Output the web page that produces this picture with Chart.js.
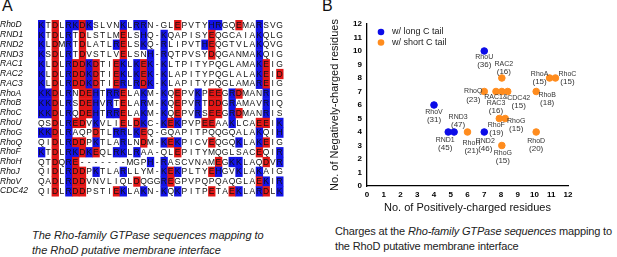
<!DOCTYPE html>
<html>
<head>
<meta charset="utf-8">
<script src="https://cdn.jsdelivr.net/npm/chart.js@4.4.0/dist/chart.umd.min.js"></script>
<style>
  body { margin: 0; width: 617px; height: 257px; overflow: hidden; background: #fff;
         font-family: "Liberation Sans", Arial, sans-serif; position: relative; }
  .panel { position: absolute; font-size: 16px; color: #111; }
  .cap { position: absolute; font-size: 11px; line-height: 15px; color: #222; white-space: nowrap; }
  #alignWrap { position: absolute; left: 0; top: 0; width: 310px; height: 210px; }
  #scatterWrap { position: absolute; left: 320px; top: 0; width: 297px; height: 216px; }
</style>
</head>
<body>
<div class="panel" style="left:2px;top:-3px;">A</div>
<div class="panel" style="left:322px;top:-3px;">B</div>
<div id="alignWrap"><canvas id="align-chart"></canvas></div>
<div id="scatterWrap"><canvas id="charge-chart"></canvas></div>
<div class="cap" style="left:32px;top:228px;font-style:italic;">The Rho-family GTPase sequences mapping to<br>the RhoD putative membrane interface</div>
<div class="cap" style="left:335px;top:224px;letter-spacing:-0.15px;">Charges at the <i>Rho-family GTPase sequences</i> mapping to<br>the RhoD putative membrane interface</div>
<script>
// panel A: alignment
const alignNames = ['RhoD','RND1','RND2','RND3','RAC1','RAC2','RAC3','RhoA','RhoB','RhoC',
                    'RhoU','RhoG','RhoQ','RhoF','RhoH','RhoJ','RhoV','CDC42'];
const alignSeqs = [
    'KTDLRKDKSLVNKLRRN-GLEPVTYHRGQEMARSVG',
    'KTDLRTDLSTLMELSHQ-KQAPISYEQGCAIAKQLG',
    'KLDMRTDLATLRELSKQ-RLIPVTHEQGTVLAKQVG',
    'KSDLRTDVSTLVELSNH-RQTPVSYDQGANMAKQIG',
    'KLDLRDDKDTIEKLKEK-KLTPITYPQGLAMAKEIG',
    'KLDLRDDKDTIEKLKEK-KLAPITYPQGLALAKEID',
    'KLDLRDDKDTIERLRDK-KLAPITYPQGLAMAREIG',
    'KKDLRNDEHTRRELAKM-KQEPVKPEEGRDMANRIG',
    'KKDLRSDEHVRTELARM-KQEPVRTDDGRAMAVRIQ',
    'KKDLRQDEHTRRELAKM-KQEPVRSEEGRDMANRIS',
    'QSDLREDVKVLIELDKC-KEKPVPEEAAKLCAEEIK',
    'KKDLRAQPDTLRRLKEQ-GQAPITPQQGQALAKQIH',
    'QIDLRDDPKTLARLNDM-KEKPICVEQGQKLAKEIG',
    'KTDLRKDKEQLRKLRAA-QLEPITYMQGLSACEQIR',
    'QTDQRE-------MGPH-RASCVNAMEGKKLAQDVR',
    'QIDLRDDPKTLARLLYM-KEKPLTYEHGVKLAKAIG',
    'QADLRDDVNVLIQLDQGGREGPVPQPQAQGLAEKIR',
    'QIDLRDDPSTIEKLAKN-KQKPITPETAEKLARDLK'
];
const positiveRes = 'KRH';
const negativeRes = 'DE';

// panel B: charges
const longNames = ['RhoU', 'RhoV', 'RND1', 'RND3', 'RND2'];
const longPositive = [7, 4, 4.85, 5.2, 7];
const longNegative = [10, 6, 4, 4, 4];
const longTailLen = [36, 31, 45, 47, 46];

const shortNames = ['RAC2', 'RhoA', 'RhoC', 'RhoQ', 'RAC1&\nRAC3', '', 'CDC42', 'RhoB',
                    'RhoF', 'RhoG', 'RhoH', 'RhoD', 'RhoG'];
const shortPositive = [8.05, 10.9, 11.25, 7, 7.7, 8.05, 8.4, 10.1, 7.9, 8.25, 6, 10.1, 8.05];
const shortNegative = [8, 8, 8, 7, 7, 7, 7, 7, 5, 5, 4, 4, 3];
const shortTailLen = [16, 15, 15, 23, 16, 16, 15, 18, 19, 15, 21, 20, 15];

const blue = '#0c0ce8';
const orange = '#ff8c1e';
const cellBlue = '#1212e6';
const cellRed = '#e21616';

// where each point's label sits relative to the point (px)
const longLabelPos = [[0, 6], [0, 7], [-3, 8], [4, -15], [1, 9]];
const shortLabelPos = [[2, -14], [-10, -4], [12, -4], [-11, 0], [0, 6], null, [11, 6.5], [11, 3.5],
                       [-3, 6.5], [11, 2.5], [4, 11], [0, 9], [1, 7.5]];

const alignCells = {
    id: 'alignCells',
    beforeDatasetsDraw(chart) {
        const { ctx, scales: { x, y } } = chart;
        const h = y.getPixelForValue(1) - y.getPixelForValue(0);
        ctx.save();
        ctx.font = '8.5px "Liberation Sans", Arial, sans-serif';
        ctx.textAlign = 'center';
        ctx.textBaseline = 'middle';
        alignSeqs.forEach((seq, r) => {
            const yc = y.getPixelForValue(r);
            [...seq].forEach((ch, c) => {
                const x0 = x.getPixelForValue(c);
                const x1 = x.getPixelForValue(c + 1);
                let fill = null;
                if (positiveRes.includes(ch)) fill = cellBlue;
                if (negativeRes.includes(ch)) fill = cellRed;
                if (fill) {
                    ctx.fillStyle = fill;
                    ctx.fillRect(x0, yc - h / 2, x1 - x0 + 0.5, h + 0.5);
                }
                ctx.fillStyle = '#111';
                ctx.fillText(ch, (x0 + x1) / 2, yc + 0.5);
            });
        });
        ctx.restore();
    }
};

new Chart(document.getElementById('align-chart').getContext('2d'), {
    type: 'scatter',
    data: { datasets: [{ data: [] }] },
    plugins: [alignCells],
    options: {
        responsive: true,
        maintainAspectRatio: false,
        animation: false,
        layout: { padding: { top: 20, bottom: 14, right: 27, left: 0 } },
        plugins: { legend: { display: false }, tooltip: { enabled: false } },
        scales: {
            x: { type: 'linear', min: 0, max: alignSeqs[0].length, display: false },
            y: {
                type: 'category',
                labels: alignNames,
                offset: true,
                afterFit(scale) { scale.width = 38; },
                grid: { display: false },
                border: { display: false },
                ticks: {
                    crossAlign: 'far',
                    padding: 0,
                    color: '#111',
                    autoSkip: false,
                    font: { family: '"Liberation Sans", Arial, sans-serif', size: 8.5, style: 'italic' }
                }
            }
        }
    }
});

const pointLabels = {
    id: 'pointLabels',
    afterDatasetsDraw(chart) {
        const { ctx } = chart;
        const sets = [[longNames, longTailLen, longLabelPos], [shortNames, shortTailLen, shortLabelPos]];
        ctx.save();
        ctx.textAlign = 'center';
        ctx.textBaseline = 'middle';
        ctx.fillStyle = '#333';
        sets.forEach(([names, tails, pos], d) => {
            const meta = chart.getDatasetMeta(d);
            names.forEach((name, i) => {
                if (!pos[i] || !name) return;
                const pt = meta.data[i];
                const lines = name.split('\n');
                let yy = pt.y + pos[i][1];
                const xx = pt.x + pos[i][0];
                ctx.font = '7px "Liberation Sans", Arial, sans-serif';
                lines.forEach(l => { ctx.fillText(l, xx, yy); yy += lines.length > 1 ? 6 : 7; });
                ctx.font = '8px "Liberation Sans", Arial, sans-serif';
                ctx.fillText('(' + tails[i] + ')', xx, yy + 1);
            });
        });
        ctx.restore();
    }
};

const cornerLegend = {
    id: 'cornerLegend',
    afterDraw(chart) {
        const { ctx, chartArea } = chart;
        ctx.save();
        ctx.font = '9px "Liberation Sans", Arial, sans-serif';
        ctx.textBaseline = 'middle';
        chart.data.datasets.forEach((ds, i) => {
            const y = chartArea.top + 8 + i * 10.5;
            ctx.fillStyle = ds.backgroundColor;
            ctx.beginPath();
            ctx.arc(chartArea.left + 14, y, 3.3, 0, Math.PI * 2);
            ctx.fill();
            ctx.fillStyle = '#222';
            ctx.fillText(ds.label, chartArea.left + 25, y);
        });
        ctx.restore();
    }
};

const axisFont = { family: '"Liberation Sans", Arial, sans-serif', size: 8, weight: 'bold' };
const titleFont = { family: '"Liberation Sans", Arial, sans-serif', size: 11 };

new Chart(document.getElementById('charge-chart').getContext('2d'), {
    type: 'scatter',
    data: {
        datasets: [
            {
                label: 'w/ long C tail',
                data: longPositive.map((v, i) => ({ x: v, y: longNegative[i] })),
                backgroundColor: blue,
                borderColor: blue,
                pointRadius: 3.3
            },
            {
                label: 'w/ short C tail',
                data: shortPositive.map((v, i) => ({ x: v, y: shortNegative[i] })),
                backgroundColor: orange,
                borderColor: orange,
                pointRadius: 3.3
            }
        ]
    },
    plugins: [pointLabels, cornerLegend],
    options: {
        responsive: true,
        maintainAspectRatio: false,
        animation: false,
        layout: { padding: { top: 24, right: 49, left: 0, bottom: 0 } },
        plugins: { legend: { display: false }, tooltip: { enabled: false } },
        scales: {
            x: {
                min: 0, max: 12,
                afterFit(scale) { scale.height = 30; },
                grid: { display: false, drawTicks: true, tickLength: 3, tickColor: '#000' },
                border: { display: true, color: '#000', width: 1.3 },
                ticks: {
                    stepSize: 0.5, autoSkip: false, maxRotation: 0, padding: 1, color: '#000', font: axisFont,
                    callback: v => Number.isInteger(v) ? v : ''
                },
                title: { display: true, text: 'No. of Positively-charged residues', color: '#111', font: titleFont, padding: { top: 0, bottom: 1 } }
            },
            y: {
                min: 0, max: 12,
                afterFit(scale) { scale.width = 47; },
                grid: { display: false, drawTicks: true, tickLength: 3, tickColor: '#000' },
                border: { display: true, color: '#000', width: 1.3 },
                ticks: {
                    stepSize: 0.5, autoSkip: false, padding: 2, color: '#000', font: axisFont,
                    callback: v => Number.isInteger(v) ? v : ''
                },
                title: { display: true, text: 'No. of Negatively-charged residues', color: '#111', font: titleFont, padding: { top: 8, bottom: 0 } }
            }
        }
    }
});
</script>
</body>
</html>
